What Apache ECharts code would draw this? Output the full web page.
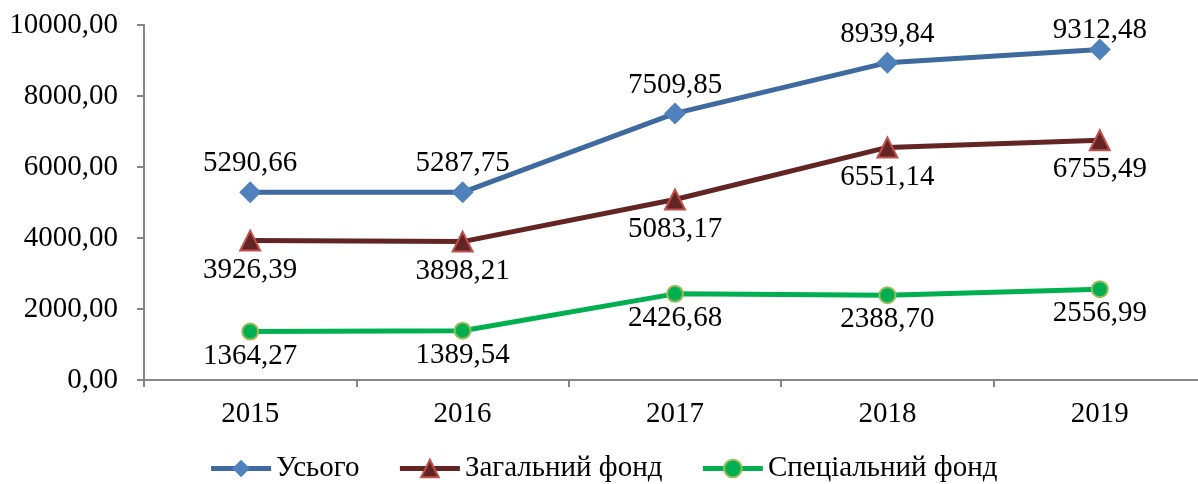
<!DOCTYPE html>
<html>
<head>
<meta charset="utf-8">
<script src="https://cdn.jsdelivr.net/npm/echarts@6/dist/echarts.min.js"></script>
<style>
  html, body { margin: 0; padding: 0; background: #fff; overflow: hidden; }
  #chart { width: 1206px; height: 484px; }
</style>
</head>
<body>
<div id="chart"></div>
<script>
const years = ['2015', '2016', '2017', '2018', '2019']
const total = [5290.66, 5287.75, 7509.85, 8939.84, 9312.48]
const generalFund = [3926.39, 3898.21, 5083.17, 6551.14, 6755.49]
const specialFund = [1364.27, 1389.54, 2426.68, 2388.70, 2556.99]
const seriesNames = ['Усього', 'Загальний фонд', 'Спеціальний фонд']

const font = '"Liberation Serif", "Times New Roman", serif'
const fmt = (v) => v.toFixed(2).replace('.', ',')

const chart = echarts.init(document.getElementById('chart'))

function makeSeries(name, data, opts) {
  return {
    name,
    type: 'line',
    // labels near the top edge are pulled down onto the marker, as in the original
    data: data.map((v) => (opts.labelPos === 'top' && v > 9000
      ? { value: v, label: { distance: -6 } }
      : v)),
    symbol: opts.symbol,
    symbolSize: opts.symbolSize,
    lineStyle: { color: opts.line, width: 5 },
    itemStyle: { color: opts.fill, borderColor: opts.border, borderWidth: opts.borderWidth },
    label: {
      show: true,
      position: opts.labelPos,
      distance: opts.distance,
      fontFamily: font,
      fontSize: 29,
      color: '#000',
      formatter: (p) => fmt(p.value),
    },
    emphasis: { disabled: true },
  }
}

chart.setOption({
  animation: false,
  textStyle: { fontFamily: font },
  legend: {
    bottom: -4,
    left: 'center',
    itemWidth: 60,
    itemHeight: 22,
    itemGap: 38,
    lineStyle: { width: 5 },
    textStyle: { fontFamily: font, fontSize: 29, color: '#000' },
    data: seriesNames,
  },
  grid: { left: 144, right: 0, top: 25, bottom: 104 },
  xAxis: {
    type: 'category',
    data: years,
    boundaryGap: true,
    axisLine: { lineStyle: { color: '#868686', width: 2 } },
    axisTick: { show: true, length: 7, lineStyle: { color: '#868686', width: 2 } },
    axisLabel: { fontFamily: font, fontSize: 29, color: '#000', margin: 20 },
  },
  yAxis: {
    type: 'value',
    min: 0,
    max: 10000,
    interval: 2000,
    axisLine: { show: true, lineStyle: { color: '#868686', width: 2 } },
    axisTick: { show: true, length: 7, lineStyle: { color: '#868686', width: 2 } },
    splitLine: { show: false },
    axisLabel: { fontFamily: font, fontSize: 29, color: '#000', margin: 26, formatter: fmt },
  },
  series: [
    makeSeries(seriesNames[0], total, {
      symbol: 'diamond', symbolSize: 22, line: '#3F6A9F', fill: '#4F81BD',
      border: '#4F81BD', borderWidth: 0, labelPos: 'top', distance: 3,
    }),
    makeSeries(seriesNames[1], generalFund, {
      symbol: 'triangle', symbolSize: 20, line: '#632523', fill: '#632523',
      border: '#C0504D', borderWidth: 2, labelPos: 'bottom', distance: 4,
    }),
    makeSeries(seriesNames[2], specialFund, {
      symbol: 'circle', symbolSize: 16, line: '#00B050', fill: '#00B050',
      border: '#9BBB59', borderWidth: 2, labelPos: 'bottom', distance: 1,
    }),
  ],
})
</script>
</body>
</html>
